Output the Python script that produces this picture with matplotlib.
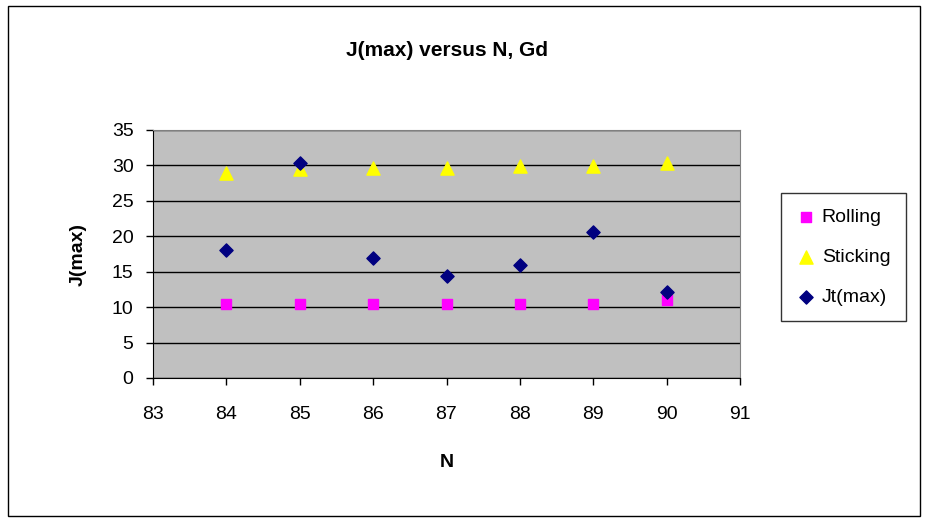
import numpy as np
import matplotlib.pyplot as plt
from matplotlib.patches import Rectangle

plt.rcParams['font.family'] = ['Liberation Sans', 'DejaVu Sans']

n_vals = [84, 85, 86, 87, 88, 89, 90]
rolling = [10.5, 10.5, 10.5, 10.5, 10.5, 10.5, 11.0]
sticking = [29.0, 29.5, 29.6, 29.6, 29.9, 29.9, 30.4]
jt_max = [18.0, 30.4, 16.9, 14.4, 16.0, 20.6, 12.1]

W, H = 932, 520
fig = plt.figure(figsize=(W / 100, H / 100), dpi=100)
fig.patch.set_facecolor('white')

# outer chart border
fig.add_artist(Rectangle((8 / W, 4 / H), 912 / W, 510 / H, transform=fig.transFigure,
                         fill=False, edgecolor='black', linewidth=1.0))

ax = fig.add_axes([153 / W, 1 - 378 / H, (740 - 153) / W, (378 - 130) / H])
ax.set_facecolor('#c0c0c0')

ax.scatter(n_vals, rolling, marker='s', s=60, color='#ff00ff', label='Rolling', zorder=3)
ax.scatter(n_vals, sticking, marker='^', s=90, color='#ffff00', label='Sticking', zorder=3)
ax.scatter(n_vals, jt_max, marker='D', s=45, color='#000080', label='Jt(max)', zorder=4)

ax.set_xlim(83, 91)
ax.set_ylim(0, 35)
ax.set_xticks(np.arange(83, 92, 1))
ax.set_yticks(np.arange(0, 36, 5))
ax.yaxis.grid(True, color='black', linewidth=1.0)
ax.set_axisbelow(True)
for s in ['top', 'right']:
    ax.spines[s].set_color('#808080')
ax.spines['left'].set_color('black')
ax.spines['bottom'].set_color('black')
ax.tick_params(axis='both', direction='out', length=5, labelsize=14, width=1)
ax.tick_params(axis='x', pad=15)
ax.tick_params(axis='y', pad=9)

ax.set_xlabel('N', fontsize=14, fontweight='bold')
ax.xaxis.set_label_coords(0.5, (378 - 463) / 248)
ax.xaxis.label.set_va('center')
ax.set_ylabel('J(max)', fontsize=14, fontweight='bold')
ax.yaxis.set_label_coords((78 - 153) / 587, 0.5)
ax.yaxis.label.set_va('center')

fig.text(0.5 * (153 + 740) / W, 1 - 50 / H, 'J(max) versus N, Gd', ha='center', va='center',
         fontsize=15, fontweight='bold')

leg = ax.legend(loc='center left', bbox_to_anchor=(781 / W, 1 - 257 / H),
                bbox_transform=fig.transFigure, frameon=True, fancybox=False,
                edgecolor='black', fontsize=14, handletextpad=0.3, handlelength=1.0,
                borderpad=0.8, labelspacing=1.15, borderaxespad=0)
leg.get_frame().set_linewidth(1.0)

fig.savefig('out.png', dpi=100)
